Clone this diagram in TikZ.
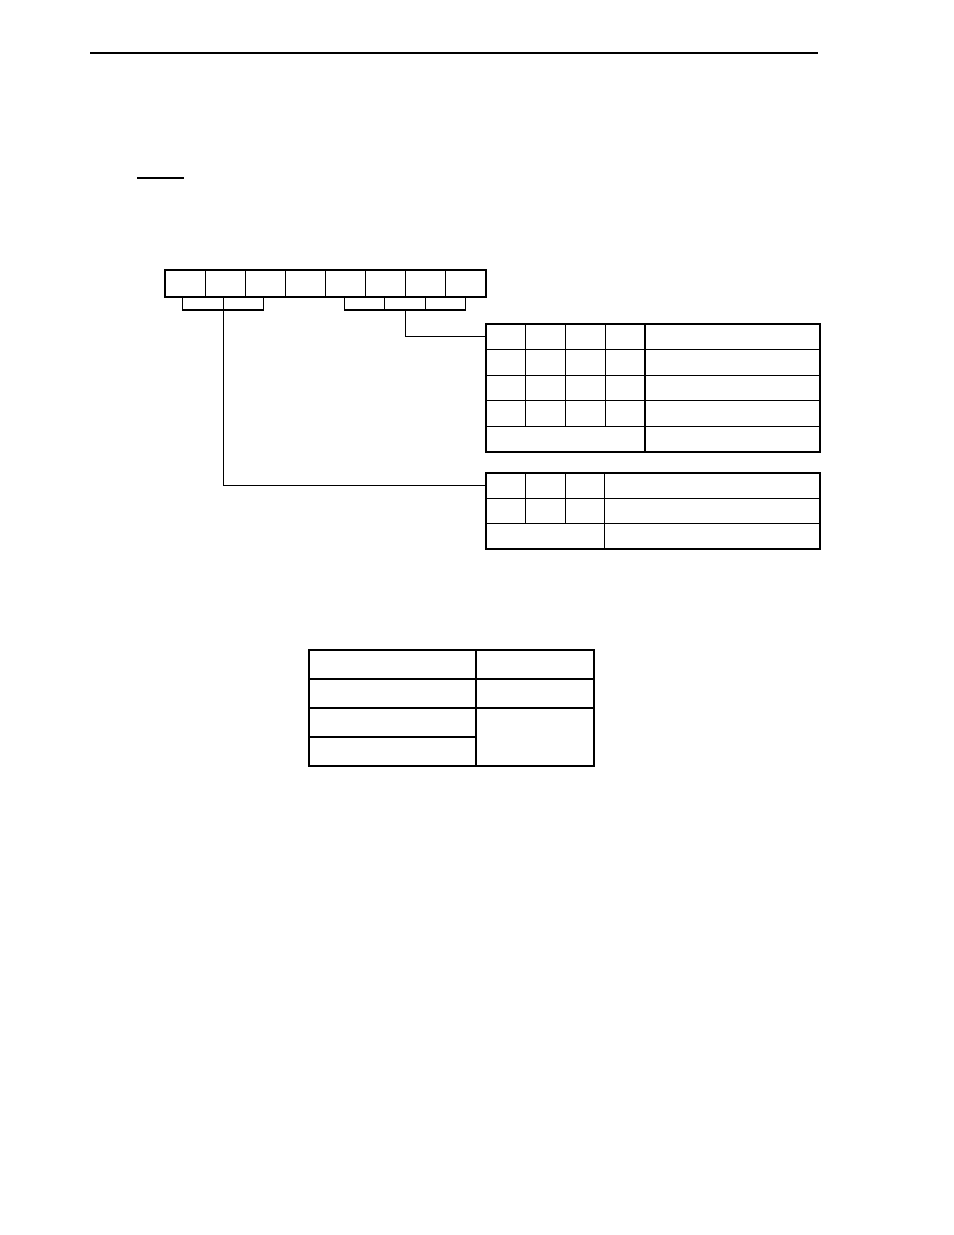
\documentclass[tikz,border=0pt]{standalone}
\usepackage{tikz}
\usetikzlibrary{positioning}

\begin{document}
\begin{tikzpicture}[
    x=0.02cm, y=-0.02cm,
    cellbase/.style={rectangle, draw, line width=0.6pt, inner sep=0pt, outer sep=0pt},
    regbit/.style={cellbase, minimum width=0.8025cm, minimum height=0.54cm},
    fieldbox/.style={cellbase, minimum width=0.81cm, minimum height=0.26cm},
    selbit/.style={cellbase, minimum width=0.795cm, minimum height=0.512cm},
    seltext/.style={cellbase, minimum width=3.5cm, minimum height=0.512cm},
    selmerge/.style={cellbase, minimum width=3.18cm, minimum height=0.512cm},
    modebit/.style={cellbase, minimum width=0.793cm, minimum height=0.507cm},
    modetext/.style={cellbase, minimum width=4.3cm, minimum height=0.507cm},
    modemerge/.style={cellbase, minimum width=2.38cm, minimum height=0.507cm},
    noteleft/.style={cellbase, minimum width=3.34cm, minimum height=0.58cm},
    noteright/.style={cellbase, minimum width=2.36cm, minimum height=0.58cm},
    notemerge/.style={cellbase, minimum width=2.36cm, minimum height=1.16cm},
    frame/.style={line width=1.3pt},
    wire/.style={line width=0.6pt},
    rule/.style={line width=0.7pt}
]
    \useasboundingbox (0,0) rectangle (954,1235);

    % page rule and heading underline
    \draw[rule] (90,53) -- (818,53);
    \draw[rule] (137,178) -- (184,178);

    % register bits
    \node[regbit] (bit0) at (185.06,283.5) {};
    \foreach \i [count=\j from 0] in {1,...,7}
        \node[regbit, right=0pt of bit\j] (bit\i) {};
    \draw[frame] (bit0.north west) rectangle (bit7.south east);

    % bit fields
    \node[fieldbox, anchor=north] (fa1) at ([xshift=-0.04cm]bit0.south east) {};
    \node[fieldbox, right=0pt of fa1] (fa2) {};
    \node[fieldbox, anchor=north] (fb1) at ([xshift=-0.02cm]bit4.south east) {};
    \node[fieldbox, right=0pt of fb1] (fb2) {};
    \node[fieldbox, right=0pt of fb2] (fb3) {};

    % selection table
    \foreach \r in {0,...,3} {
        \node[selbit] (a\r0) at (505.9,336.8+25.6*\r) {};
        \foreach \c [count=\p from 0] in {1,2,3}
            \node[selbit, right=0pt of a\r\p] (a\r\c) {};
        \node[seltext, right=0pt of a\r3] (a\r4) {};
    }
    \node[selmerge, anchor=north west] (a40) at (a30.south west) {};
    \node[seltext, right=0pt of a40] (a44) {};
    \draw[frame] (a00.north west) rectangle (a44.south east);

    % mode table
    \foreach \r in {0,1} {
        \node[modebit] (m\r0) at (505.8,485.7+25.33*\r) {};
        \foreach \c [count=\p from 0] in {1,2}
            \node[modebit, right=0pt of m\r\p] (m\r\c) {};
        \node[modetext, right=0pt of m\r2] (m\r3) {};
    }
    \node[modemerge, anchor=north west] (m20) at (m10.south west) {};
    \node[modetext, right=0pt of m20] (m23) {};
    \draw[frame] (m00.north west) rectangle (m23.south east);

    % connectors
    \draw[wire] (fa1.south east) |- (m00.west);
    \draw[wire] (fb2.south) |- (a00.west);

    % note table
    \node[noteleft] (n00) at (392.5,664.5) {};
    \node[noteright, right=0pt of n00] (n01) {};
    \node[noteleft, below=0pt of n00] (n10) {};
    \node[noteright, right=0pt of n10] (n11) {};
    \node[noteleft, below=0pt of n10] (n20) {};
    \node[notemerge, anchor=north west] (n21) at (n20.north east) {};
    \node[noteleft, below=0pt of n20] (n30) {};
    \draw[frame] (n00.south west) -- (n01.south east);
    \draw[frame] (n00.north west) rectangle (n21.south east);
\end{tikzpicture}
\end{document}
